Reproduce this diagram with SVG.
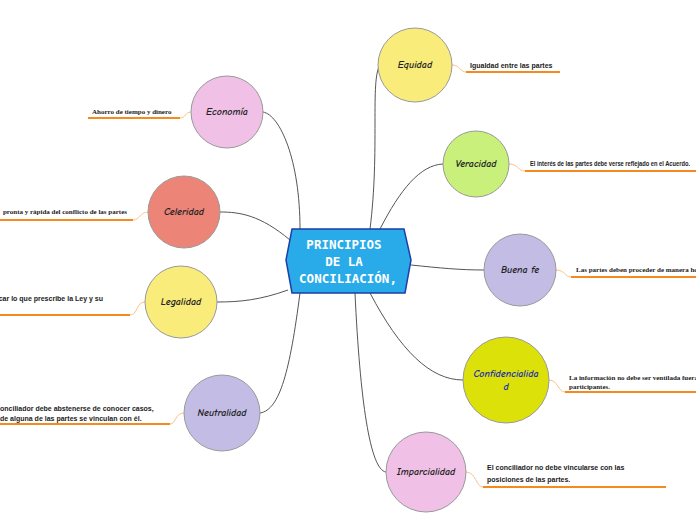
<svg xmlns="http://www.w3.org/2000/svg" width="696" height="520" viewBox="0 0 696 520">
<style>
.c{stroke:#999;stroke-width:1}
.n{font-family:"Comic Neue","DejaVu Sans",sans-serif;font-style:italic;font-size:10px;fill:#222;text-anchor:middle;font-weight:bold}
.l{fill:none;stroke:#555;stroke-width:1}
.u{fill:none;stroke:#f58a1f;stroke-width:2}
.s{fill:none;stroke:#f9c48a;stroke-width:1}
.t{font-family:"Liberation Sans",sans-serif;font-weight:bold;font-size:7px;fill:#222}
.ts{font-family:"Liberation Serif",serif;font-weight:bold;font-size:7px;fill:#222}
</style>
<rect width="696" height="520" fill="#fff"/>
<g id="connectors">
<path class="l" d="M370 229 C380 150 370 80 380 65"/>
<path class="l" d="M300 229 C300 160 280 115 263 112"/>
<path class="l" d="M380 229 C400 190 420 165 443 164"/>
<path class="l" d="M290 240 C260 215 240 212 220 212"/>
<path class="l" d="M411 265 C440 268 460 270 484 270"/>
<path class="l" d="M288 290 C260 300 240 302 217 302"/>
<path class="l" d="M370 293 C400 350 430 380 463 380"/>
<path class="l" d="M300 293 C290 370 280 410 260 413"/>
<path class="l" d="M355 293 C360 400 370 470 386 472"/>
<path class="s" d="M452 65 C460 65 460 72 466 72"/>
<path class="s" d="M191 112 C185 112 186 118 180 118"/>
<path class="s" d="M509 164 C518 164 518 171 525 171"/>
<path class="s" d="M148 212 C140 212 140 220 133 220"/>
<path class="s" d="M556 270 C565 270 565 277 571 277"/>
<path class="s" d="M145 302 C136 302 138 315 130 315"/>
<path class="s" d="M549 380 C558 380 558 392 565 392"/>
<path class="s" d="M184 413 C175 413 176 424 170 424"/>
<path class="s" d="M466 472 C476 472 476 487 483 487"/>
<path class="u" d="M466 72 H560"/>
<path class="u" d="M88 118 H180"/>
<path class="u" d="M525 171 H696"/>
<path class="u" d="M0 220 H133"/>
<path class="u" d="M571 277 H696"/>
<path class="u" d="M0 315 H130"/>
<path class="u" d="M565 392 H696"/>
<path class="u" d="M0 424 H170"/>
<path class="u" d="M483 487 H666"/>
</g>
<g id="central">
<path d="M292 229 H404 L411 260 L405 293 H292 L286 260 Z" fill="#29abe9" stroke="#1c3fa8" stroke-width="1.5"/>
<g font-family="'DejaVu Sans Mono',monospace" font-size="12.5" fill="#fff" text-anchor="middle" font-weight="bold">
<text x="344" y="249">PRINCIPIOS</text>
<text x="344" y="266">DE LA</text>
<text x="348" y="283">CONCILIACIÓN,</text>
</g>
</g>
<g id="equidad"><circle class="c" cx="415" cy="65" r="37" fill="#f9ec7a"/><text class="n" x="415" y="68">Equidad</text></g>
<g id="economia"><circle class="c" cx="227" cy="112" r="36" fill="#f0c0e6"/><text class="n" x="227" y="115">Economía</text></g>
<g id="veracidad"><circle class="c" cx="476" cy="164" r="33" fill="#c8f07a"/><text class="n" x="476" y="167" font-size="8">Veracidad</text></g>
<g id="celeridad"><circle class="c" cx="184" cy="212" r="36" fill="#ec8478"/><text class="n" x="184" y="215">Celeridad</text></g>
<g id="buenafe"><circle class="c" cx="520" cy="270" r="36" fill="#c3bde6"/><text class="n" x="520" y="273">Buena fe</text></g>
<g id="legalidad"><circle class="c" cx="181" cy="302" r="36" fill="#f9ec7a"/><text class="n" x="181" y="305">Legalidad</text></g>
<g id="confidencialidad"><circle class="c" cx="506" cy="380" r="43" fill="#dde10a"/><text class="n" x="506" y="377" font-size="8" style="fill:#1a2fb0">Confidencialida</text><text class="n" x="506" y="390" font-size="8" style="fill:#1a2fb0">d</text></g>
<g id="neutralidad"><circle class="c" cx="222" cy="413" r="38" fill="#c3bde6"/><text class="n" x="222" y="416" font-size="9">Neutralidad</text></g>
<g id="imparcialidad"><circle class="c" cx="426" cy="472" r="40" fill="#f0c0e6"/><text class="n" x="426" y="475" font-size="9">Imparcialidad</text></g>
<g id="labels">
<text class="t" x="470" y="68">Igualdad entre las partes</text>
<text class="ts" x="92" y="114" font-size="6">Ahorro de tiempo y dinero</text>
<text class="t" x="530" y="166" font-size="6.5" textLength="160" lengthAdjust="spacingAndGlyphs">El interés de las partes debe verse reflejado en el Acuerdo.</text>
<text class="ts" x="127" y="214" font-size="6.5" text-anchor="end">pronta y rápida del conflicto de las partes</text>
<text class="ts" x="576" y="272" font-size="6.5">Las partes deben proceder de manera honesta</text>
<text class="t" x="103" y="301" text-anchor="end">car lo que prescribe la Ley y su</text>
<text class="t" x="0" y="411" font-size="6.5">onciliador debe abstenerse de conocer casos,</text>
<text class="t" x="0" y="421" font-size="6.5">de alguna de las partes se vinculan con él.</text>
<text class="ts" x="569" y="380" font-size="6.5">La información no debe ser ventilada fuera</text>
<text class="ts" x="569" y="389" font-size="6.5">participantes.</text>
<text class="t" x="487" y="470" font-size="8">El conciliador no debe vincularse con las</text>
<text class="t" x="487" y="482" font-size="8">posiciones de las partes.</text>
</g>
</svg>
